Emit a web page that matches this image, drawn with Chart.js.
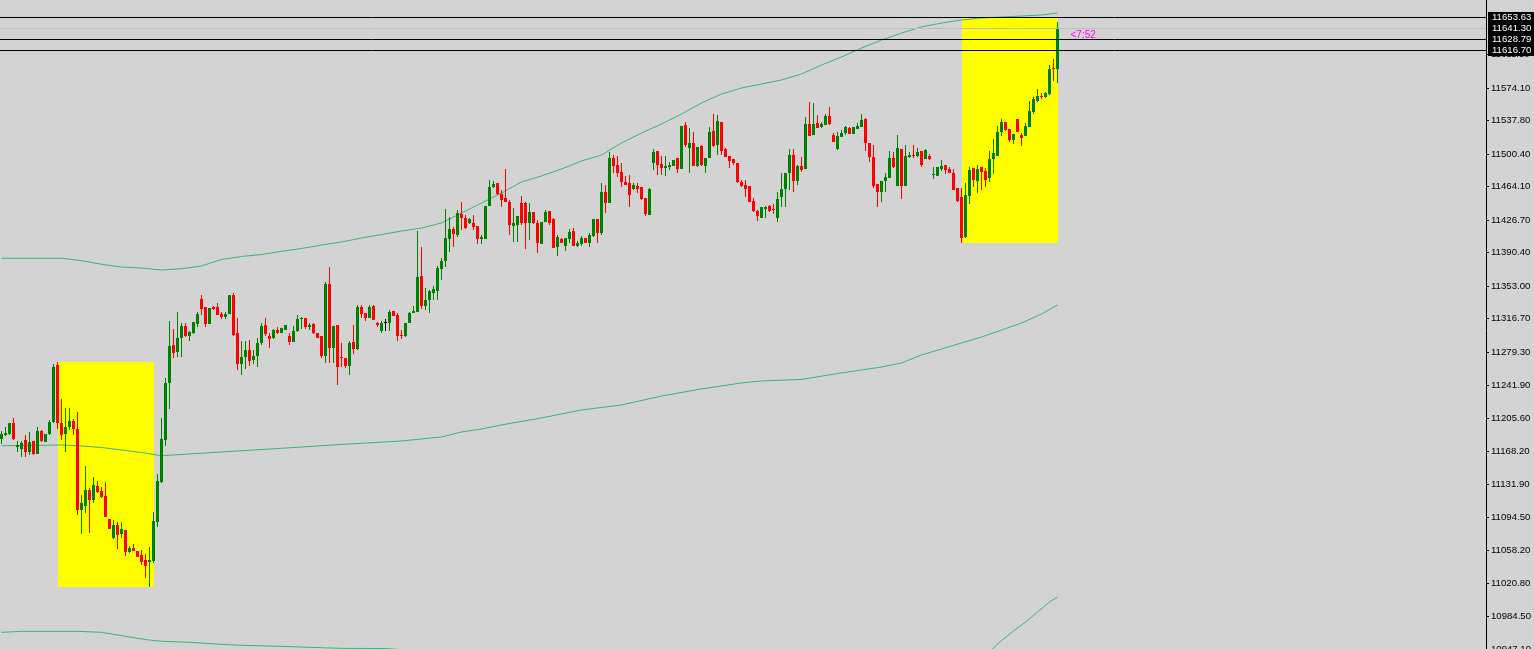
<!DOCTYPE html>
<html>
<head>
<meta charset="utf-8">
<script src="https://cdn.jsdelivr.net/npm/chart.js@4.4.0/dist/chart.umd.min.js"></script>
<style>
html, body { margin:0; padding:0; background:#d3d3d3; overflow:hidden; }
canvas { display:block; }
</style>
</head>
<body>
<canvas id="myChart" width="1534" height="660" style="width:1534px;height:660px"></canvas>
<script>
// candles, one per bar (oldest first)
const open = [11182.2,11186.6,11187.8,11200.0,11173.2,11171.0,11181.1,11167.7,11180.0,11165.4,11191.1,11178.8,11187.8,11201.2,11264.8,11200.0,11187.8,11195.6,11202.3,11193.3,
11102.9,11107.3,11125.2,11114.0,11129.7,11124.1,11118.5,11092.8,11071.6,11086.1,11076.1,11080.6,11056.0,11060.4,11057.1,11052.7,11047.1,11044.8,11045.9,11089.5,
11134.1,11181.1,11244.7,11287.1,11279.3,11295.0,11308.4,11297.2,11300.5,11310.6,11338.5,11329.6,11310.6,11329.6,11329.6,11321.7,11318.4,11321.7,11342.9,11300.5,
11265.9,11273.7,11281.5,11270.4,11274.9,11289.4,11309.5,11297.2,11295.0,11303.9,11300.5,11303.9,11297.2,11290.5,11302.8,11316.2,11317.3,11307.3,11310.6,11300.5,
11297.2,11274.9,11355.3,11283.8,11309.5,11273.7,11272.6,11263.7,11290.5,11282.7,11329.6,11322.9,11317.3,11330.7,11311.7,11302.8,11311.7,11311.7,11325.1,11320.6,
11298.3,11297.2,11311.7,11322.9,11324.0,11364.2,11330.7,11337.4,11345.2,11347.4,11372.0,11381.0,11405.5,11416.7,11410.0,11433.4,11429.0,11423.4,11423.4,11420.0,
11405.5,11405.5,11442.4,11463.6,11468.0,11455.8,11451.3,11446.8,11420.0,11421.1,11445.7,11445.7,11423.4,11435.6,11423.4,11399.9,11424.5,11436.8,11427.8,11396.6,
11405.5,11397.7,11405.5,11414.4,11397.7,11399.9,11406.6,11401.1,11408.9,11427.8,11412.2,11458.0,11445.7,11496.0,11488.1,11480.3,11469.2,11468.0,11461.3,11464.7,
11463.6,11451.3,11432.3,11490.4,11503.8,11489.3,11484.8,11485.9,11487.0,11496.0,11483.7,11532.8,11507.1,11512.7,11487.0,11509.4,11487.0,11496.0,11526.1,11510.5,
11536.2,11506.0,11498.2,11494.8,11490.4,11469.2,11465.8,11464.7,11447.9,11436.8,11429.0,11439.0,11442.4,11439.0,11429.0,11452.4,11461.3,11479.2,11499.3,11470.3,
11487.0,11483.7,11533.9,11521.6,11535.0,11530.6,11532.8,11542.9,11521.6,11506.0,11519.4,11523.9,11529.5,11522.8,11528.3,11530.6,11539.5,11512.7,11497.1,11466.9,
11458.0,11470.3,11473.6,11496.0,11464.7,11506.0,11464.7,11497.1,11499.3,11498.2,11503.8,11494.8,11498.2,11477.0,11475.9,11483.7,11488.1,11483.7,11479.2,11462.5,
11452.4,11407.7,11453.5,11484.8,11470.3,11485.9,11481.4,11473.6,11494.8,11498.2,11525.0,11536.2,11528.3,11516.1,11539.5,11521.6,11520.5,11530.6,11547.3,11559.6,
11565.2,11564.1,11567.4,11596.5,11595.3];
const high = [11191.1,11195.6,11200.0,11205.6,11180.0,11180.0,11186.6,11190.0,11180.0,11195.6,11192.2,11187.8,11203.4,11265.9,11268.2,11226.8,11216.8,11216.8,11204.5,11212.3,
11119.6,11152.0,11127.5,11139.7,11135.3,11128.6,11134.1,11092.8,11091.7,11089.5,11089.5,11080.6,11062.7,11064.9,11057.1,11058.2,11053.8,11061.6,11100.7,11143.1,
11205.6,11250.3,11313.9,11305.0,11324.0,11311.7,11311.7,11302.8,11312.8,11324.0,11342.9,11329.6,11328.5,11330.7,11334.0,11324.0,11324.0,11342.9,11345.2,11317.3,
11291.6,11291.6,11292.7,11281.5,11295.0,11311.7,11317.3,11300.5,11305.0,11307.3,11306.2,11309.5,11300.5,11308.4,11320.6,11318.4,11317.3,11311.7,11311.7,11300.5,
11297.2,11357.5,11374.2,11308.4,11309.5,11289.4,11272.6,11291.6,11309.5,11331.8,11331.8,11322.9,11331.8,11331.8,11312.8,11313.9,11316.2,11326.2,11325.1,11322.9,
11303.9,11311.7,11324.0,11330.7,11414.4,11396.6,11350.8,11348.6,11353.0,11375.4,11384.3,11439.0,11430.1,11418.9,11437.9,11446.8,11432.3,11429.0,11432.3,11420.0,
11410.0,11442.4,11471.4,11470.3,11468.0,11460.2,11483.7,11449.1,11440.1,11431.2,11453.5,11446.8,11445.7,11435.6,11426.7,11424.5,11437.9,11436.8,11429.0,11410.0,
11406.6,11406.6,11416.7,11417.8,11403.3,11408.9,11406.6,11412.2,11427.8,11427.8,11468.0,11465.8,11502.7,11499.3,11498.2,11490.4,11475.9,11477.0,11468.0,11468.0,
11463.6,11451.3,11462.5,11506.0,11503.8,11498.2,11498.2,11491.5,11493.7,11496.0,11531.7,11536.2,11529.5,11525.0,11508.3,11510.5,11496.0,11530.6,11545.1,11544.0,
11536.2,11507.1,11498.2,11494.8,11490.4,11471.4,11471.4,11464.7,11451.3,11437.9,11441.2,11442.4,11443.5,11444.6,11458.0,11479.2,11479.2,11506.0,11506.0,11488.1,
11497.1,11541.8,11558.5,11557.4,11544.0,11536.2,11545.1,11552.9,11523.9,11525.0,11527.2,11531.7,11530.6,11530.6,11535.0,11545.1,11540.6,11512.7,11510.5,11466.9,
11470.3,11479.2,11503.8,11502.7,11521.6,11506.0,11510.5,11502.7,11510.5,11507.1,11503.8,11506.0,11500.4,11485.9,11485.9,11493.7,11488.1,11485.9,11483.7,11462.5,
11462.5,11468.0,11485.9,11484.8,11488.1,11485.9,11484.8,11503.8,11517.2,11531.7,11539.5,11536.2,11528.3,11522.8,11539.5,11523.9,11535.0,11559.6,11564.1,11573.0,
11568.5,11569.7,11599.8,11606.5,11647.8];
const low = [11176.6,11185.5,11186.6,11181.1,11167.7,11162.1,11162.1,11164.3,11164.3,11165.4,11178.8,11178.8,11186.6,11200.0,11193.3,11181.1,11167.7,11192.2,11186.6,11097.3,
11076.1,11099.5,11077.2,11110.7,11121.9,11116.3,11095.1,11081.7,11070.5,11059.3,11071.6,11051.5,11054.9,11057.1,11050.4,11041.5,11027.0,11016.9,11043.7,11083.9,
11133.0,11174.4,11215.7,11272.6,11273.7,11273.7,11296.1,11291.6,11299.4,11307.3,11320.6,11307.3,11310.6,11326.2,11320.6,11316.2,11316.2,11321.7,11297.2,11259.2,
11253.6,11260.3,11263.7,11265.9,11262.6,11287.1,11297.2,11283.8,11293.9,11299.4,11300.5,11303.9,11287.1,11290.5,11301.7,11305.0,11305.0,11303.9,11299.4,11295.0,
11272.6,11267.1,11267.1,11267.1,11242.5,11262.6,11261.5,11253.6,11277.1,11281.5,11317.3,11313.9,11317.3,11315.1,11307.3,11300.5,11302.8,11302.8,11319.5,11291.6,
11293.9,11296.1,11311.7,11322.9,11324.0,11327.3,11326.2,11322.9,11337.4,11337.4,11359.7,11374.2,11391.0,11396.6,11407.7,11415.6,11416.7,11422.3,11415.6,11399.9,
11399.9,11405.5,11442.4,11462.5,11454.6,11441.2,11446.8,11410.0,11402.2,11402.2,11421.1,11394.3,11404.4,11422.3,11389.9,11399.9,11424.5,11421.1,11395.5,11386.5,
11401.1,11392.1,11401.1,11397.7,11396.6,11397.7,11401.1,11396.6,11407.7,11401.1,11410.0,11434.5,11445.7,11479.2,11474.7,11463.6,11465.8,11441.2,11460.2,11456.9,
11449.1,11431.2,11432.3,11482.6,11477.0,11477.0,11475.9,11482.6,11487.0,11479.2,11483.7,11508.3,11479.2,11487.0,11485.9,11487.0,11479.2,11496.0,11508.3,11499.3,
11499.3,11497.1,11484.8,11488.1,11468.0,11463.6,11452.4,11446.8,11435.6,11425.6,11429.0,11429.0,11435.6,11433.4,11424.5,11441.2,11441.2,11460.2,11458.0,11465.8,
11480.3,11483.7,11520.5,11521.6,11529.5,11529.5,11532.8,11532.8,11513.8,11504.9,11519.4,11521.6,11522.8,11522.8,11528.3,11530.6,11503.8,11491.5,11462.5,11441.2,
11446.8,11458.0,11473.6,11484.8,11464.7,11450.2,11464.7,11496.0,11496.0,11497.1,11485.9,11494.8,11493.7,11472.5,11475.9,11481.4,11478.1,11479.2,11460.2,11446.8,
11401.1,11406.6,11444.6,11463.6,11456.9,11460.2,11463.6,11469.2,11478.1,11498.2,11520.5,11526.1,11513.8,11511.6,11525.0,11509.4,11520.5,11530.6,11545.1,11558.5,
11561.8,11563.0,11566.3,11581.9,11579.7];
const close = [11187.8,11188.9,11200.0,11182.2,11175.5,11177.7,11167.7,11178.8,11165.4,11191.1,11180.0,11187.8,11201.2,11262.6,11200.0,11186.6,11195.6,11202.3,11193.3,11102.9,
11110.7,11125.2,11114.0,11130.8,11122.9,11117.4,11095.1,11081.7,11086.1,11075.0,11081.7,11056.0,11060.4,11057.1,11050.4,11044.8,11040.4,11047.1,11090.6,11135.3,
11182.2,11244.7,11286.0,11278.2,11295.0,11308.4,11297.2,11301.7,11312.8,11321.7,11327.3,11310.6,11328.5,11327.3,11320.6,11318.4,11321.7,11342.9,11298.3,11265.9,
11273.7,11281.5,11269.3,11274.9,11289.4,11308.4,11299.4,11293.9,11303.9,11300.5,11306.2,11309.5,11290.5,11302.8,11316.2,11317.3,11307.3,11309.5,11300.5,11295.0,
11274.9,11355.3,11283.8,11308.4,11262.6,11272.6,11263.7,11289.4,11282.7,11329.6,11321.7,11317.3,11329.6,11315.1,11309.5,11311.7,11311.7,11324.0,11319.5,11297.2,
11297.2,11311.7,11322.9,11325.1,11363.1,11330.7,11337.4,11347.4,11349.7,11373.1,11381.0,11406.6,11416.7,11411.1,11434.5,11429.0,11417.8,11427.8,11418.9,11405.5,
11407.7,11442.4,11463.6,11466.9,11455.8,11449.1,11446.8,11421.1,11423.4,11431.2,11423.4,11423.4,11435.6,11423.4,11401.1,11424.5,11435.6,11423.4,11395.5,11407.7,
11401.1,11406.6,11413.3,11397.7,11401.1,11406.6,11401.1,11410.0,11427.8,11412.2,11458.0,11445.7,11496.0,11487.0,11479.2,11469.2,11465.8,11454.6,11465.8,11461.3,
11450.2,11433.4,11461.3,11502.7,11488.1,11484.8,11487.0,11488.1,11493.7,11483.7,11531.7,11510.5,11512.7,11487.0,11508.3,11488.1,11496.0,11525.0,11509.4,11537.3,
11503.8,11497.1,11492.6,11490.4,11469.2,11464.7,11461.3,11446.8,11436.8,11431.2,11441.2,11441.2,11436.8,11437.9,11450.2,11461.3,11479.2,11499.3,11470.3,11487.0,
11482.6,11533.9,11520.5,11533.9,11529.5,11533.9,11542.9,11533.9,11513.8,11520.5,11523.9,11530.6,11522.8,11530.6,11531.7,11538.4,11512.7,11497.1,11464.7,11458.0,
11470.3,11474.7,11496.0,11485.9,11507.1,11464.7,11498.2,11499.3,11498.2,11502.7,11488.1,11504.9,11494.8,11478.1,11485.9,11487.0,11482.6,11479.2,11460.2,11447.9,
11406.6,11454.6,11482.6,11471.4,11483.7,11480.3,11471.4,11494.8,11501.5,11525.0,11536.2,11527.2,11516.1,11522.8,11525.0,11518.3,11531.7,11548.4,11561.8,11565.2,
11564.1,11568.5,11595.3,11595.3,11641.3];

// envelope lines, sampled at bar index
const upperIdx = [0,15,20,25,30,35,40,45,50,53,55,60,65,70,75,80,85,90,95,100,105,110,115,120,125,130,135,140,145,150,155,160,165,170,175,180,185,190,195,200,205,210,215,220,225,230,235,240,245,250,255,260,264];
const upperVal = [11384.0,11384.0,11381.3,11377.3,11374.2,11373.1,11370.9,11372.3,11375.4,11379.8,11382.6,11386.0,11388.2,11391.7,11394.9,11398.8,11402.2,11406.6,11410.5,11414.4,11417.8,11423.4,11434.5,11445.7,11456.9,11469.2,11475.9,11483.7,11492.6,11499.3,11512.7,11523.9,11533.9,11545.1,11557.4,11567.4,11574.1,11578.6,11583.1,11589.8,11599.8,11608.8,11618.8,11627.7,11635.5,11642.3,11646.7,11650.1,11652.3,11653.4,11654.5,11655.6,11657.9];
const middleIdx = [0,10,15,20,25,30,35,40,45,55,70,85,100,110,115,120,125,135,145,155,165,175,185,190,200,210,220,225,230,235,240,245,250,255,260,264];
const middleVal = [11174.7,11175.1,11175.5,11174.4,11172.7,11169.9,11167.1,11163.5,11164.9,11167.7,11171.8,11176.1,11180.0,11184.5,11190.0,11193.4,11197.9,11205.7,11214.6,11220.2,11230.2,11238.1,11244.8,11247.0,11248.7,11256.0,11262.6,11267.1,11276.0,11282.7,11289.4,11296.1,11303.9,11311.7,11321.7,11331.8];
const lowerIdx = [0,5,19,25,28,31,34,37,40,47,51,55,60,70,77,85,96,105,120,140,160,180,200,220,235,245,250,253,256,259,262,264];
const lowerVal = [10966.3,10967.4,10967.4,10966.3,10964.1,10961.8,10959.6,10957.7,10956.3,10955.2,10954.0,10952.9,10951.8,10950.7,10949.6,10948.4,10948.2,10945.4,10939.8,10933.1,10927.5,10924.2,10924.2,10925.3,10929.0,10936.5,10957.1,10967.8,10977.8,10989.0,11000.2,11005.7];

// price axis labels
const tickValues = [11611.50,11574.10,11537.80,11500.40,11464.10,11426.70,11390.40,11353.00,11316.70,11279.30,11241.90,11205.60,11168.20,11131.90,11094.50,11058.20,11020.80,10984.50,10947.10];

// horizontal levels (second one is the bid line)
const levelPrices = [11653.63, 11641.30, 11628.79, 11616.70];
const levelColors = ['#000000', '#bdbdbd', '#000000', '#000000'];
const bidPrice = 11641.30;
const timerText = '<7:52';

// highlighted zones: from bar, to bar, top price, bottom price
const zoneFrom = [14, 240];
const zoneTo = [38, 264];
const zoneTop = [11268.2, 11653.63];
const zoneBottom = [11016.9, 11401.1];

const yMax = 11672.4;
const yMin = 10935.4;

const candleIdx = open.map((v, i) => i);
const candleColors = open.map((o, i) => close[i] > o ? '#008000' : (close[i] < o ? '#ff0000' : '#000000'));
const wickData = candleIdx.map(i => ({x: i, y: [low[i], high[i]]}));
const bodyData = candleIdx.map(i => ({x: i, y: [open[i], close[i]]}));
const toPts = (xs, ys) => xs.map((x, k) => ({x: x, y: ys[k]}));

const fontFam = "'Liberation Sans', Arial, sans-serif";
const axisFontSize = 9.6;

const mt4Plugin = {
  id: 'mt4',
  beforeDatasetsDraw(chart) {
    const ctx = chart.ctx, xs = chart.scales.x, ys = chart.scales.y;
    ctx.save();
    ctx.fillStyle = '#ffff00';
    for (let z = 0; z < zoneFrom.length; z++) {
      const x1 = Math.round(xs.getPixelForValue(zoneFrom[z]));
      const x2 = Math.round(xs.getPixelForValue(zoneTo[z]));
      const y1 = Math.round(ys.getPixelForValue(zoneTop[z]));
      const y2 = Math.round(ys.getPixelForValue(zoneBottom[z]));
      ctx.fillRect(x1, y1, x2 - x1, y2 - y1);
    }
    ctx.restore();
  },
  afterDatasetsDraw(chart) {
    const ctx = chart.ctx, ys = chart.scales.y, area = chart.chartArea;
    ctx.save();
    ctx.lineWidth = 1;
    for (let k = 0; k < levelPrices.length; k++) {
      const y = Math.round(ys.getPixelForValue(levelPrices[k])) + 0.5;
      ctx.strokeStyle = levelColors[k];
      ctx.beginPath();
      ctx.moveTo(area.left, y);
      ctx.lineTo(area.right, y);
      ctx.stroke();
    }
    ctx.restore();
  },
  afterDraw(chart) {
    const ctx = chart.ctx, xs = chart.scales.x, ys = chart.scales.y, area = chart.chartArea;
    ctx.save();
    ctx.font = axisFontSize + 'px ' + fontFam;
    ctx.textBaseline = 'middle';
    ctx.textAlign = 'left';
    for (let k = 0; k < levelPrices.length; k++) {
      const y = Math.round(ys.getPixelForValue(levelPrices[k]));
      ctx.fillStyle = '#000000';
      ctx.fillRect(area.right + 2, y - 5, 46, 11);
      ctx.fillStyle = '#ffffff';
      ctx.fillText(levelPrices[k].toFixed(2), area.right + 6, y + 0.5);
    }
    ctx.font = '10px ' + fontFam;
    ctx.fillStyle = '#ff00ff';
    ctx.fillText(timerText, xs.getPixelForValue(open.length - 1) + 13, ys.getPixelForValue(bidPrice) + 7);
    ctx.restore();
  }
};

const myChart = document.getElementById('myChart');
const candleChart = new Chart(myChart, {
  type: 'bar',
  data: {
    datasets: [
      { type: 'line', data: toPts(upperIdx, upperVal), borderColor: '#3cb371', borderWidth: 1, pointRadius: 0, tension: 0, order: 3 },
      { type: 'line', data: toPts(middleIdx, middleVal), borderColor: '#3cb371', borderWidth: 1, pointRadius: 0, tension: 0, order: 3 },
      { type: 'line', data: toPts(lowerIdx, lowerVal), borderColor: '#3cb371', borderWidth: 1, pointRadius: 0, tension: 0, order: 3 },
      { data: wickData, backgroundColor: candleColors, barThickness: 1, grouped: false, borderWidth: 0, inflateAmount: 0, order: 2 },
      { data: bodyData, backgroundColor: candleColors, barThickness: 3, grouped: false, borderWidth: 0, inflateAmount: 0, minBarLength: 1, order: 1 }
    ]
  },
  options: {
    responsive: false,
    devicePixelRatio: 1,
    animation: false,
    events: [],
    layout: { padding: 0 },
    plugins: { legend: { display: false }, tooltip: { enabled: false } },
    scales: {
      x: {
        type: 'linear',
        display: false,
        offset: false,
        min: -0.375,
        max: 371.125
      },
      y: {
        type: 'linear',
        position: 'right',
        min: yMin,
        max: yMax,
        afterBuildTicks: s => { s.ticks = tickValues.map(v => ({ value: v })); },
        afterFit: s => { s.width = 48; s.paddingTop = 0; s.paddingBottom = 0; },
        border: { display: true, color: '#000000', width: 1 },
        grid: { drawOnChartArea: false, drawTicks: true, tickLength: 3, color: '#000000' },
        ticks: {
          color: '#000000',
          font: { family: fontFam, size: axisFontSize },
          padding: 2,
          autoSkip: false,
          maxRotation: 0,
          callback: v => Number(v).toFixed(2)
        }
      }
    }
  },
  plugins: [mt4Plugin]
});
</script>
</body>
</html>
